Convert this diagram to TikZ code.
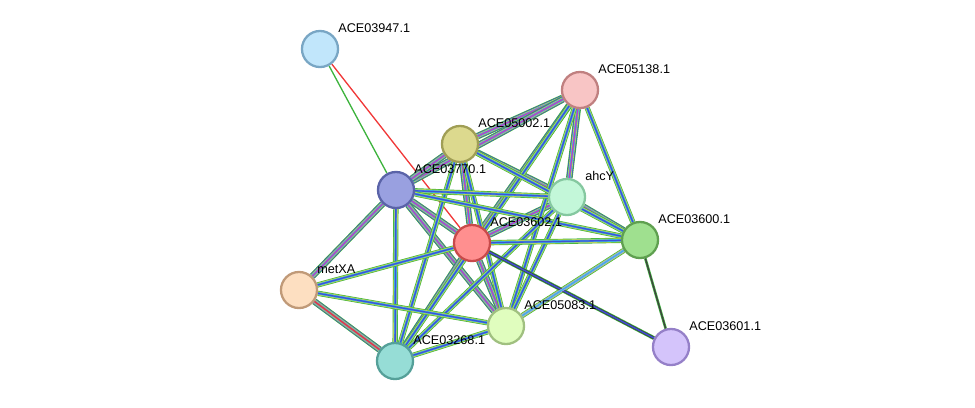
\documentclass[tikz,border=0pt]{standalone}
\usepackage{fontspec}
\setmainfont{Liberation Sans}
\usetikzlibrary{backgrounds,calc}
\definecolor{sgreen}{HTML}{3DB33D}
\definecolor{sblue}{HTML}{3F51D8}
\definecolor{scyan}{HTML}{3FB5E0}
\definecolor{syellow}{HTML}{C8D84A}
\definecolor{sred}{HTML}{F03838}
\definecolor{smag}{HTML}{C040C0}
\definecolor{sdark}{HTML}{404040}
\definecolor{slav}{HTML}{A59CF0}
\tikzset{
  prot/.style 2 args={circle, minimum size=36pt*0.57, inner sep=0pt, line width=1.3pt,
    fill=#1, draw=#2},
  plabel/.style={anchor=west, font=\fontsize{7.2}{8}\selectfont, inner sep=0pt},
}
% striped connector: first colour widest
\newcommand{\stedge}[3]{%
  \foreach \c [count=\n] in {#3}{\xdef\ncol{\n}}%
  \foreach \c [count=\i] in {#3}{%
    \pgfmathsetmacro{\w}{0.75*(\ncol-\i+1)}%
    \draw[\c, line width=\w pt] (#1) -- (#2);}%
}
\newcommand{\pcol}[3]{\definecolor{#1f}{HTML}{#2}\definecolor{#1d}{HTML}{#3}}
\pcol{a47}{C1E6FB}{79A6C4}
\pcol{a38}{F8C5C5}{C08080}
\pcol{a02}{DCD98E}{A09E55}
\pcol{a70}{99A0E0}{5A63A8}
\pcol{ahc}{C3F7D9}{85C8A0}
\pcol{a602}{FF8F8F}{C84A4A}
\pcol{a600}{9FE08F}{5FA050}
\pcol{met}{FDDFC1}{C09A78}
\pcol{a83}{E0FDBE}{A0C080}
\pcol{a68}{96DDD6}{55A099}
\pcol{a601}{D4C4FB}{9580C8}
\begin{document}
\begin{tikzpicture}[x=0.02cm, y=-0.02cm]
\useasboundingbox (0,0) rectangle (975,407);
\foreach \p/\x/\y in {a47/320/49, a38/580/90, a02/460/144, a70/396/190, ahc/567/197,
  a602/472/243, a600/640/240, met/299/290, a83/506/326, a68/395/361, a601/671/347}
  \node[prot={\p f}{\p d}] (\p) at (\x,\y) {};
\foreach \p/\t in {a47/ACE03947.1, a38/ACE05138.1, a02/ACE05002.1, a70/ACE03770.1,
  ahc/ahcY, a602/ACE03602.1, a600/ACE03600.1, met/metXA, a83/ACE05083.1,
  a68/ACE03268.1, a601/ACE03601.1}
  \node[plabel] (l-\p) at ($(\p)+(18,-21)$) {\t};
\begin{pgfonlayer}{background}
\stedge{a47}{a602}{sred}
\stedge{a47}{a70}{sgreen}
\foreach \u/\v in {a38/a02, a38/a70, a38/ahc, a38/a602, a02/a70, a02/ahc, a02/a602,
  a70/a602, a70/met, a70/a83, ahc/a602, ahc/a600, a602/a83, a602/a68, met/a68}
  {\stedge{\u}{\v}{sgreen,sblue,syellow,scyan,smag}}
\foreach \u/\v in {a38/a600, a38/a83, a38/a68, a02/a600, a02/a83, a02/a68, a70/ahc,
  a70/a600, a70/a68, ahc/a83, ahc/a68, a602/a600, a602/met, a600/a83, met/a83, a83/a68}
  {\stedge{\u}{\v}{sgreen,syellow,scyan,sblue}}
\stedge{met}{a68}{sred}
\stedge{a602}{a601}{sgreen,sdark,sblue}
\stedge{a600}{a601}{sgreen,sdark}
\stedge{a83}{a600}{slav,scyan}
\end{pgfonlayer}
\end{tikzpicture}
\end{document}
